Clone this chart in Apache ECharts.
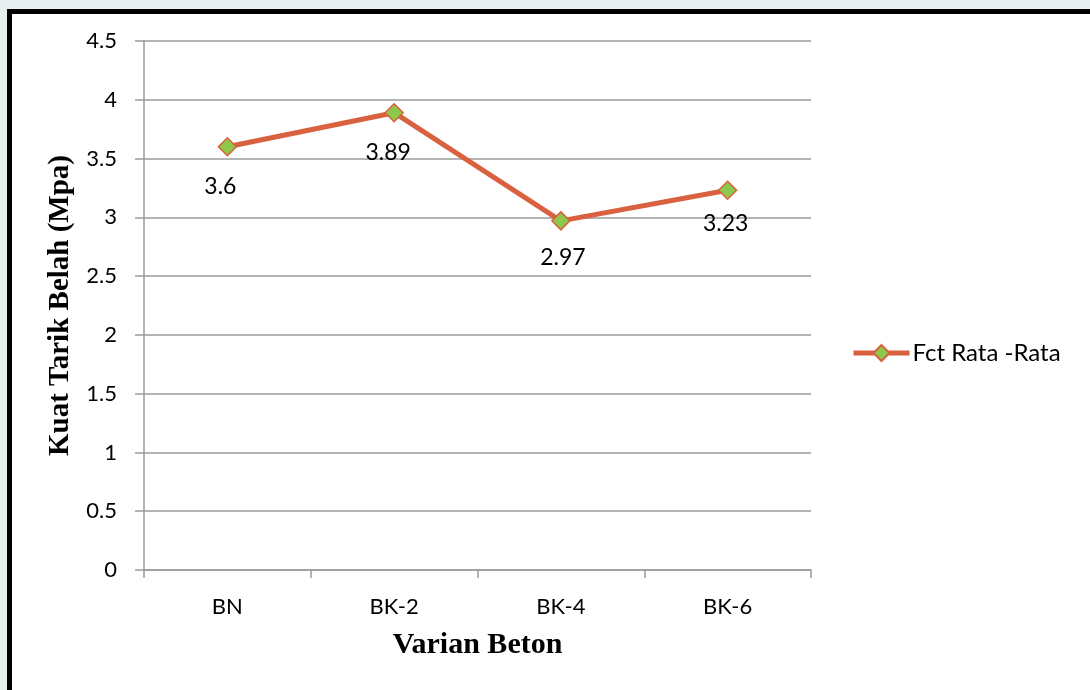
<!DOCTYPE html>
<html>
<head>
<meta charset="utf-8">
<script src="https://cdn.jsdelivr.net/npm/echarts@6/dist/echarts.min.js"></script>
<style>
  html, body { margin: 0; padding: 0; width: 1090px; height: 690px; overflow: hidden; background: #e7efef; }
  #frame { position: absolute; left: 7px; top: 9px; width: 1090px; height: 700px; box-sizing: border-box;
           border: 5px solid #000; background: #fff; }
  #chart { position: absolute; left: 0; top: 0; width: 1090px; height: 690px; }
</style>
</head>
<body>
<div id="frame"></div>
<div id="chart"></div>
<script>
// Average splitting tensile strength per concrete variant
const categories = ['BN', 'BK-2', 'BK-4', 'BK-6'];
const fctValues = [3.6, 3.89, 2.97, 3.23];
const seriesName = 'Fct Rata -Rata';
const yTicks = { min: 0, max: 4.5, interval: 0.5 };

// small nudges for the value labels under each point
const labelShift = [[-7, 0], [-6, 0], [2, -4], [-2, -7]];

const lineColor = '#d9613f';
const markerFill = '#8cc84b';
const gridColor = '#9b9b9b';
const tickFont = 'Lato, "Open Sans", sans-serif';
const titleFont = '"Liberation Serif", "DejaVu Serif", serif';

const chart = echarts.init(document.getElementById('chart'), null, { renderer: 'canvas' });

chart.setOption({
  backgroundColor: 'transparent',
  animation: false,
  grid: { left: 144, right: 279, top: 41, bottom: 120, containLabel: false },
  legend: {
    left: 851, top: 341, padding: 0,
    itemWidth: 56, itemHeight: 20, itemGap: 0,
    lineStyle: { width: 5 },
    textStyle: { fontFamily: tickFont, fontSize: 24, color: '#000', padding: [0, 0, 0, -2] },
    data: [seriesName]
  },
  xAxis: {
    type: 'category',
    data: categories,
    boundaryGap: true,
    name: 'Varian Beton',
    nameLocation: 'middle',
    nameGap: 60,
    nameTextStyle: { fontFamily: titleFont, fontWeight: 'bold', fontSize: 30, color: '#000' },
    axisLine: { lineStyle: { color: gridColor, width: 1.5 } },
    axisTick: { show: true, length: 8, lineStyle: { color: gridColor, width: 1.5 } },
    axisLabel: { margin: 26, fontFamily: tickFont, fontSize: 22, color: '#000' }
  },
  yAxis: {
    type: 'value',
    min: yTicks.min, max: yTicks.max, interval: yTicks.interval,
    name: 'Kuat Tarik Belah (Mpa)',
    nameLocation: 'middle',
    nameGap: 67,
    nameTextStyle: { fontFamily: titleFont, fontWeight: 'bold', fontSize: 29, color: '#000' },
    axisLine: { show: true, lineStyle: { color: gridColor, width: 1.5 } },
    axisTick: { show: true, length: 9, lineStyle: { color: gridColor, width: 1.5 } },
    axisLabel: { margin: 27, fontFamily: tickFont, fontSize: 22, color: '#000' },
    splitLine: { show: true, lineStyle: { color: gridColor, width: 1.5 } }
  },
  series: [{
    name: seriesName,
    type: 'line',
    data: fctValues.map((v, i) => ({
      value: v,
      label: { offset: labelShift[i] }
    })),
    symbol: 'diamond',
    symbolSize: 18,
    lineStyle: { color: lineColor, width: 5 },
    itemStyle: { color: markerFill, borderColor: lineColor, borderWidth: 1.5 },
    label: {
      show: true,
      position: 'bottom',
      distance: 19,
      fontFamily: tickFont,
      fontSize: 23,
      color: '#000'
    }
  }]
});
</script>
</body>
</html>
